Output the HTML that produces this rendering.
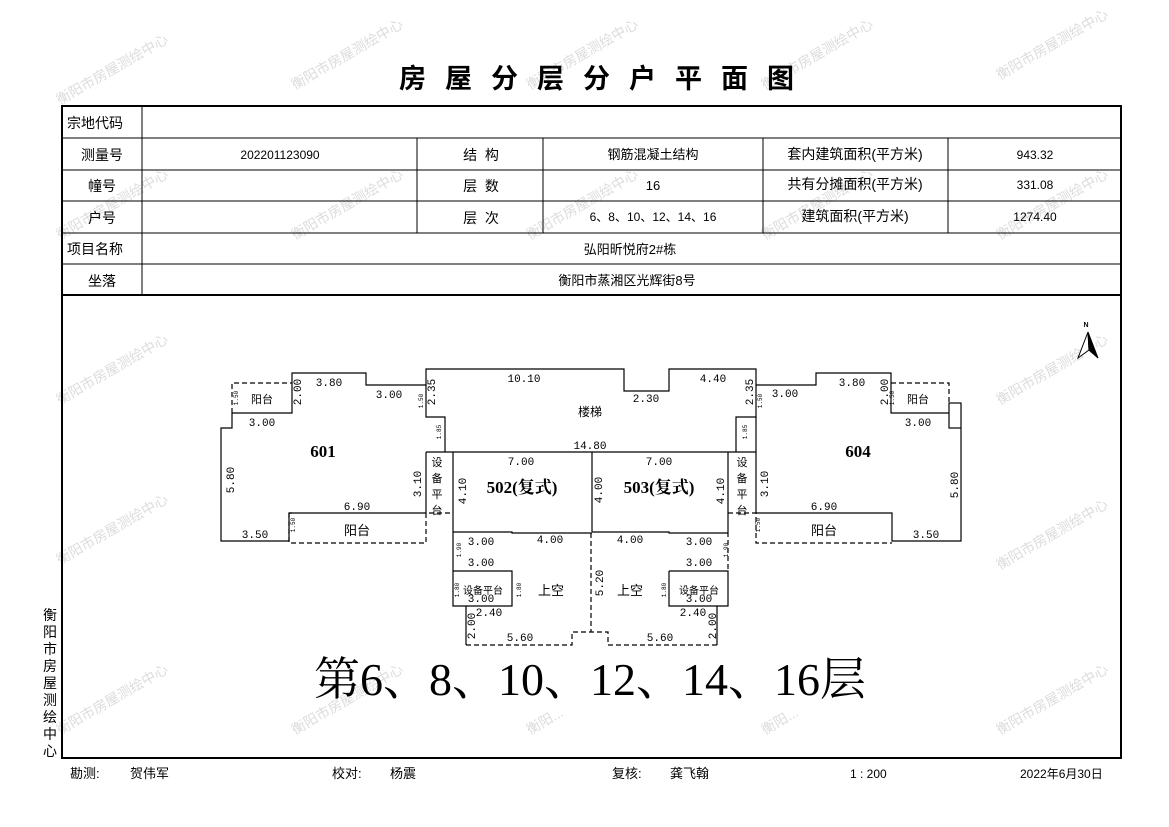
<!DOCTYPE html>
<html><head><meta charset="utf-8"><style>
html,body{margin:0;padding:0;background:#fff;}
svg{display:block;}
.cj{font-family:"Liberation Sans","Noto Sans CJK SC",sans-serif;}
.d{font-family:"Liberation Mono",monospace;font-size:11px;fill:#000;}
.s{font-family:"Liberation Mono",monospace;font-size:6px;fill:#000;}
.wm{font-family:"Liberation Sans","Noto Sans CJK SC",sans-serif;font-size:14px;fill:#dcdcdc;}
</style></head><body>
<svg width="1169" height="827" viewBox="0 0 1169 827" xmlns="http://www.w3.org/2000/svg">
<g class="wm">
<text transform="translate(60,105) rotate(-30)">衡阳市房屋测绘中心</text>
<text transform="translate(295,90) rotate(-30)">衡阳市房屋测绘中心</text>
<text transform="translate(530,90) rotate(-30)">衡阳市房屋测绘中心</text>
<text transform="translate(765,90) rotate(-30)">衡阳市房屋测绘中心</text>
<text transform="translate(1000,80) rotate(-30)">衡阳市房屋测绘中心</text>
<text transform="translate(60,240) rotate(-30)">衡阳市房屋测绘中心</text>
<text transform="translate(295,240) rotate(-30)">衡阳市房屋测绘中心</text>
<text transform="translate(530,240) rotate(-30)">衡阳市房屋测绘中心</text>
<text transform="translate(765,240) rotate(-30)">衡阳市房屋测绘中心</text>
<text transform="translate(1000,240) rotate(-30)">衡阳市房屋测绘中心</text>
<text transform="translate(60,405) rotate(-30)">衡阳市房屋测绘中心</text>
<text transform="translate(1000,405) rotate(-30)">衡阳市房屋测绘中心</text>
<text transform="translate(60,565) rotate(-30)">衡阳市房屋测绘中心</text>
<text transform="translate(1000,570) rotate(-30)">衡阳市房屋测绘中心</text>
<text transform="translate(60,735) rotate(-30)">衡阳市房屋测绘中心</text>
<text transform="translate(295,735) rotate(-30)">衡阳市房屋测绘中心</text>
<text transform="translate(530,735) rotate(-30)">衡阳...</text>
<text transform="translate(765,735) rotate(-30)">衡阳...</text>
<text transform="translate(1000,735) rotate(-30)">衡阳市房屋测绘中心</text>
</g>
<text x="606" y="88" text-anchor="middle" class="cj" font-size="27" font-weight="bold" letter-spacing="19">房屋分层分户平面图</text>
<!-- frame -->
<rect x="62" y="106" width="1059" height="652" fill="none" stroke="#000" stroke-width="2"/>
<g stroke="#000" stroke-width="1">
<line x1="62" y1="138" x2="1121" y2="138"/><line x1="62" y1="170" x2="1121" y2="170"/>
<line x1="62" y1="201" x2="1121" y2="201"/><line x1="62" y1="233" x2="1121" y2="233"/>
<line x1="62" y1="264" x2="1121" y2="264"/>
<line x1="142" y1="106" x2="142" y2="295"/>
<line x1="417" y1="138" x2="417" y2="233"/><line x1="543" y1="138" x2="543" y2="233"/>
<line x1="763" y1="138" x2="763" y2="233"/><line x1="948" y1="138" x2="948" y2="233"/>
</g>
<line x1="62" y1="295" x2="1121" y2="295" stroke="#000" stroke-width="2"/>
<g class="cj" font-size="14" fill="#000">
<text x="67" y="128">宗地代码</text>
<text x="102" y="160" text-anchor="middle">测量号</text>
<text x="102" y="191" text-anchor="middle">幢号</text>
<text x="102" y="223" text-anchor="middle">户号</text>
<text x="67" y="254">项目名称</text>
<text x="102" y="286" text-anchor="middle">坐落</text>
<text x="280" y="159" text-anchor="middle" font-size="12">202201123090</text>
<text x="481" y="160" text-anchor="middle" xml:space="preserve">结  构</text>
<text x="481" y="191" text-anchor="middle" xml:space="preserve">层  数</text>
<text x="481" y="223" text-anchor="middle" xml:space="preserve">层  次</text>
<text x="653" y="159" text-anchor="middle" font-size="13">钢筋混凝土结构</text>
<text x="653" y="190" text-anchor="middle" font-size="13">16</text>
<text x="653" y="221" text-anchor="middle" font-size="12">6、8、10、12、14、16</text>
<text x="855" y="159" text-anchor="middle">套内建筑面积(平方米)</text>
<text x="855" y="189" text-anchor="middle">共有分摊面积(平方米)</text>
<text x="855" y="221" text-anchor="middle">建筑面积(平方米)</text>
<text x="1035" y="159" text-anchor="middle" font-size="12">943.32</text>
<text x="1035" y="189" text-anchor="middle" font-size="12">331.08</text>
<text x="1035" y="221" text-anchor="middle" font-size="12">1274.40</text>
<text x="630" y="254" text-anchor="middle" font-size="13">弘阳昕悦府2#栋</text>
<text x="627" y="285" text-anchor="middle" font-size="13">衡阳市蒸湘区光辉街8号</text>
</g>
<g class="cj" font-size="14" text-anchor="middle">
<text x="50" y="620">衡</text><text x="50" y="637">阳</text><text x="50" y="654">市</text><text x="50" y="671">房</text><text x="50" y="688">屋</text><text x="50" y="705">测</text><text x="50" y="722">绘</text><text x="50" y="739">中</text><text x="50" y="756">心</text>
</g>
<g class="cj" font-size="13">
<text x="70" y="778">勘测:</text><text x="130" y="778">贺伟军</text>
<text x="332" y="778">校对:</text><text x="390" y="778">杨震</text>
<text x="612" y="778">复核:</text><text x="670" y="778">龚飞翰</text>
<text x="850" y="778" font-size="12" xml:space="preserve">1 : 200</text>
<text x="1020" y="778" font-size="12">2022年6月30日</text>
</g>
<text x="1086" y="327" text-anchor="middle" font-size="7" font-family="Liberation Sans,sans-serif" font-weight="bold">N</text>
<polygon points="1088,332 1078,358 1089,350" fill="#fff" stroke="#000" stroke-width="1"/>
<polygon points="1088,332 1098,358 1089,350" fill="#000" stroke="#000" stroke-width="1"/>
<g fill="none" stroke="#000" stroke-width="1.2">
<polyline points="292,513 289,513 289,541 221,541 221,428 232,428 232,413 292,413 292,373 366,373 366,385 426,385 426,369 624,369 624,391 669,391 669,369 756,369 756,417 736,417 736,452"/>
<polyline points="289,513 426,513"/>
<polyline points="426,385 426,417 445,417 445,452"/>
<polyline points="426,452 426,513"/>
<polyline points="426,452 736,452"/>
<polyline points="453,452 453,571"/>
<polyline points="592,452 592,532"/>
<polyline points="728,452 728,532"/>
<polyline points="453,532 512,532 512,533 592,533"/>
<polyline points="592,532 669,532 669,533 728,533"/>
<polyline points="453,571 512,571 512,606 453,606 453,571"/>
<polyline points="466,606 466,645"/>
<polyline points="669,571 728,571 728,606 669,606 669,571"/>
<polyline points="717,606 717,645"/>
<polyline points="756,417 756,513 892,513 892,541 961,541 961,428"/>
<polyline points="756,385 816,385 816,373 891,373 891,413 949,413"/>
<rect x="949" y="403" width="12" height="25"/>
<polyline points="736,452 756,452"/>
</g>
<g fill="none" stroke="#000" stroke-width="1.2" stroke-dasharray="5,3">
<polyline points="232,413 232,383 292,383"/>
<polyline points="289,513 289,543 426,543 426,513 453,513"/>
<polyline points="466,645 572,645 572,632 608,632 608,645 717,645"/>
<polyline points="591,533 591,632"/>
<polyline points="728,532 728,571"/>
<polyline points="728,513 756,513 756,543 892,543"/>
<polyline points="891,383 949,383 949,403"/>
</g>
<g class="d" text-anchor="middle">
<text x="329" y="386">3.80</text><text x="389" y="398">3.00</text><text x="262" y="426">3.00</text>
<text x="357" y="510">6.90</text><text x="255" y="538">3.50</text>
<text x="524" y="382">10.10</text><text x="646" y="402">2.30</text><text x="713" y="382">4.40</text>
<text x="590" y="449">14.80</text><text x="521" y="465">7.00</text><text x="659" y="465">7.00</text>
<text x="481" y="545">3.00</text><text x="550" y="543">4.00</text><text x="481" y="566">3.00</text><text x="481" y="602">3.00</text>
<text x="489" y="616">2.40</text><text x="520" y="641">5.60</text>
<text x="630" y="543">4.00</text><text x="699" y="545">3.00</text><text x="699" y="566">3.00</text><text x="699" y="602">3.00</text>
<text x="693" y="616">2.40</text><text x="660" y="641">5.60</text>
<text x="785" y="397">3.00</text><text x="852" y="386">3.80</text><text x="918" y="426">3.00</text>
<text x="824" y="510">6.90</text><text x="926" y="538">3.50</text>
<text transform="translate(301,392) rotate(-90)">2.00</text>
<text transform="translate(435,392) rotate(-90)">2.35</text>
<text transform="translate(234,480) rotate(-90)">5.80</text>
<text transform="translate(421,484) rotate(-90)">3.10</text>
<text transform="translate(466,491) rotate(-90)">4.10</text>
<text transform="translate(602,490) rotate(-90)">4.00</text>
<text transform="translate(724,491) rotate(-90)">4.10</text>
<text transform="translate(603,583) rotate(-90)">5.20</text>
<text transform="translate(475,626) rotate(-90)">2.00</text>
<text transform="translate(716,626) rotate(-90)">2.00</text>
<text transform="translate(753,392) rotate(-90)">2.35</text>
<text transform="translate(888,392) rotate(-90)">2.00</text>
<text transform="translate(768,484) rotate(-90)">3.10</text>
<text transform="translate(958,485) rotate(-90)">5.80</text>
</g>
<g class="s" text-anchor="middle">
<text transform="translate(238,398) rotate(-90)">1.50</text>
<text transform="translate(423,401) rotate(-90)">1.50</text>
<text transform="translate(441,432) rotate(-90)">1.85</text>
<text transform="translate(295,525) rotate(-90)">1.50</text>
<text transform="translate(461,550) rotate(-90)">1.90</text>
<text transform="translate(521,590) rotate(-90)">1.80</text>
<text transform="translate(459,590) rotate(-90)">1.80</text>
<text transform="translate(666,590) rotate(-90)">1.80</text>
<text transform="translate(728,550) rotate(-90)">1.90</text>
<text transform="translate(747,432) rotate(-90)">1.85</text>
<text transform="translate(762,401) rotate(-90)">1.50</text>
<text transform="translate(894,398) rotate(-90)">1.50</text>
<text transform="translate(760,525) rotate(-90)">1.50</text>
</g>
<g class="cj" fill="#000" text-anchor="middle">
<text x="262" y="403" font-size="11">阳台</text>
<text x="918" y="403" font-size="11">阳台</text>
<text x="357" y="535" font-size="13">阳台</text>
<text x="824" y="535" font-size="13">阳台</text>
<text x="590" y="416" font-size="12">楼梯</text>
<text x="551" y="595" font-size="13">上空</text>
<text x="630" y="595" font-size="13">上空</text>
<text x="483" y="594" font-size="10">设备平台</text>
<text x="699" y="594" font-size="10">设备平台</text>
<g font-size="11"><text x="437" y="466">设</text><text x="437" y="482">备</text><text x="437" y="498">平</text><text x="437" y="514">台</text>
<text x="742" y="466">设</text><text x="742" y="482">备</text><text x="742" y="498">平</text><text x="742" y="514">台</text></g>
</g>
<g font-family="Liberation Serif,'Noto Serif CJK SC',serif" font-weight="bold" font-size="17" text-anchor="middle">
<text x="323" y="457">601</text><text x="858" y="457">604</text>
<text x="522" y="493">502(复式)</text><text x="659" y="493">503(复式)</text>
</g>
<text x="590" y="695" text-anchor="middle" font-family="Liberation Serif,'Noto Serif CJK SC',serif" font-size="46">第6、8、10、12、14、16层</text>
</svg>
</body></html>
